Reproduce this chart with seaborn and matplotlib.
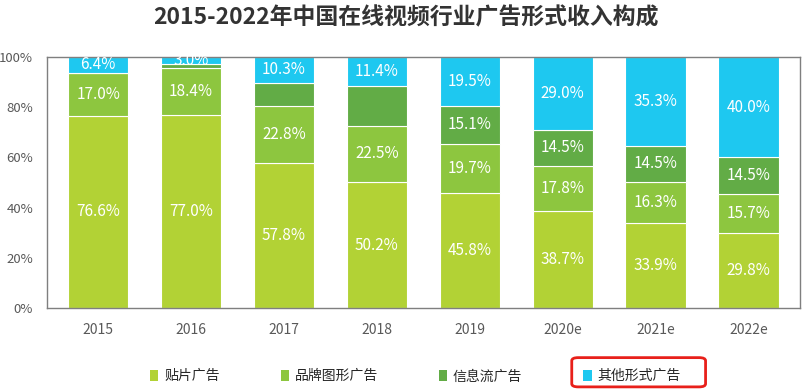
import numpy as np
import pandas as pd
import seaborn as sns
import matplotlib.pyplot as plt
from matplotlib.patches import Patch, FancyBboxPatch

# Daten
years = ["2015", "2016", "2017", "2018", "2019", "2020e", "2021e", "2022e"]
series = ["贴片广告", "品牌图形广告", "信息流广告", "其他形式广告"]
tiepian = [76.6, 77.0, 57.8, 50.2, 45.8, 38.7, 33.9, 29.8]
pinpai = [17.0, 18.4, 22.8, 22.5, 19.7, 17.8, 16.3, 15.7]
xinxiliu = [0.0, 1.6, 9.1, 15.9, 15.1, 14.5, 14.5, 14.5]
qita = [6.4, 3.0, 10.3, 11.4, 19.5, 29.0, 35.3, 40.0]
# Welche Werte beschriftet werden (信息流 erst ab 2019)
show_xinxiliu = [False, False, False, False, True, True, True, True]

colors = ["#B2D235", "#8DC63F", "#62AC46", "#1EC8F0"]
values = [tiepian, pinpai, xinxiliu, qita]

sns.set_theme(style="white")
plt.rcParams["font.family"] = ["Noto Sans CJK SC", "DejaVu Sans"]

fig = plt.figure(figsize=(8.11, 3.9), dpi=100)
ax = fig.add_axes([0.058, 0.21, 0.928, 0.644])

bottom = np.zeros(len(years))
for name, vals, col in zip(series, values, colors):
    df = pd.DataFrame({"Jahr": years, "Wert": vals})
    sns.barplot(data=df, x="Jahr", y="Wert", color=col, bottom=bottom,
                width=0.65, edgecolor="white", linewidth=0.8, ax=ax,
                saturation=1)
    for i, v in enumerate(vals):
        show = v > 0 and (name != "信息流广告" or show_xinxiliu[i])
        if show:
            ax.text(i, bottom[i] + v / 2, f"{v:.1f}%", ha="center", va="center",
                    color="white", fontsize=11)
    bottom = bottom + np.array(vals)

ax.set_ylim(0, 100)
ax.set_xlim(-0.55, 7.55)
ax.set_yticks(range(0, 101, 20))
ax.set_yticklabels([f"{t}%" for t in range(0, 101, 20)], color="#595959", fontsize=9.5)
ax.tick_params(axis="x", colors="#595959", labelsize=10, pad=5)
ax.tick_params(axis="y", pad=4)
ax.set_xlabel("")
ax.set_ylabel("")
for s in ax.spines.values():
    s.set_color("#7F7F7F")
    s.set_linewidth(1.0)

fig.text(0.5, 0.955, "2015-2022年中国在线视频行业广告形式收入构成", ha="center", va="center",
         fontsize=16.5, fontweight="bold", color="#333333")

handles = [Patch(facecolor=c, edgecolor="none") for c in colors]
fig.legend(handles, series, loc="center", bbox_to_anchor=(0.512, 0.035), ncol=4,
           frameon=False, fontsize=10, handlelength=0.6, handleheight=0.9,
           handletextpad=0.4, columnspacing=4.4)

# roter Rahmen um "其他形式广告"
box = FancyBboxPatch((0.705, 0.008), 0.165, 0.075, transform=fig.transFigure,
                     boxstyle="round,pad=0,rounding_size=0.008", fill=False,
                     edgecolor="#E8201A", linewidth=2.0)
fig.patches.append(box)

fig.savefig("out.png", dpi=100)
